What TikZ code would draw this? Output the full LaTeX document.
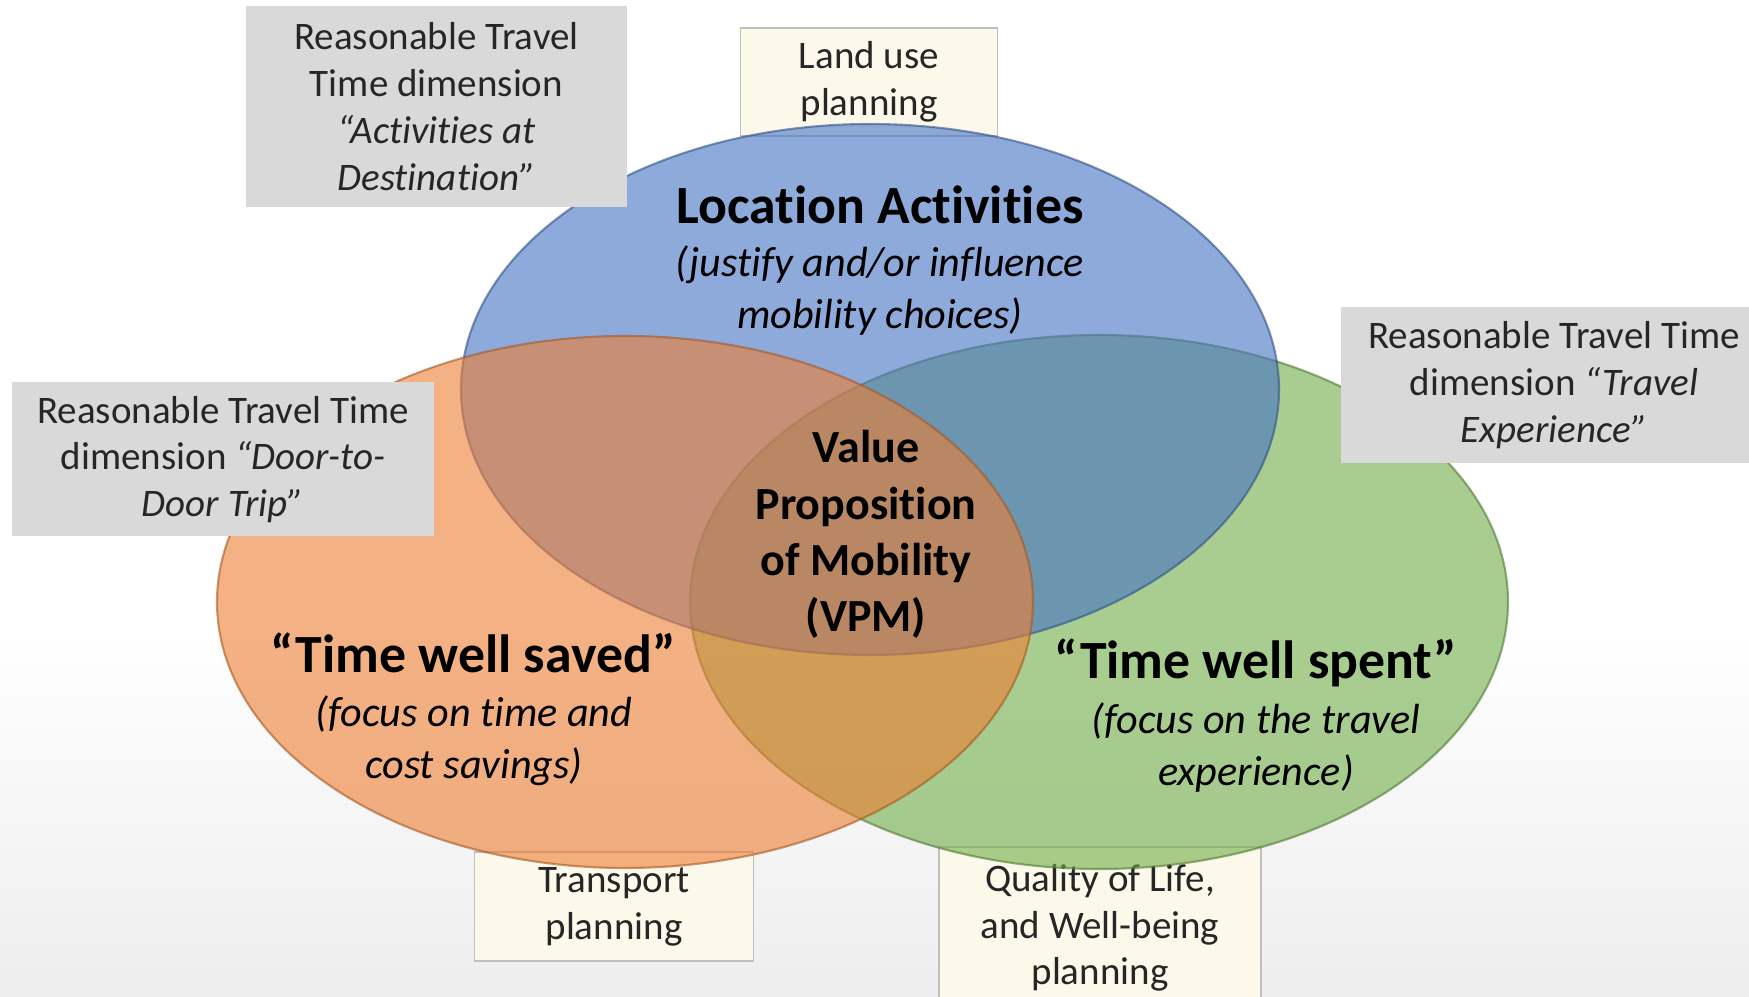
\documentclass[tikz,border=0pt]{standalone}
\usepackage{fontspec}
\setmainfont{Carlito}[Ligatures={NoCommon}]
\usepackage{tikz}

\definecolor{azulvpm}{HTML}{4472C4}
\definecolor{naranjavpm}{HTML}{ED7D31}
\definecolor{verdevpm}{HTML}{70AD47}
\definecolor{grisvpm}{HTML}{D9D9D9}
\definecolor{cremavpm}{RGB}{252,249,234}

\begin{document}
\begin{tikzpicture}[
    graybox/.style={fill=grisvpm, inner sep=0pt, align=center, text=black!85,
        font=\fontsize{11.1}{13.3}\selectfont},
    planbox/.style={fill=cremavpm, draw=black!25, line width=0.5pt, inner sep=0pt,
        align=center, text=black!85, font=\fontsize{11.1}{13.3}\selectfont},
    venn/.style={opacity=0.6, line width=0.6pt},
    vtitle/.style={font=\fontsize{15.3}{18.6}\selectfont\bfseries},
    vsub/.style={align=center, font=\fontsize{12}{14.8}\selectfont\itshape}
]
    % Marco y fondo
    \useasboundingbox (0,0) rectangle (17.49,-9.97);
    \fill[white] (0,0) rectangle (17.49,-9.97);
    \shade[top color=white, bottom color=black!7] (0,-6.3) rectangle (17.49,-9.97);

    % Cajas de planificacion (debajo de las elipses)
    \node[planbox, minimum width=2.57cm, minimum height=1.08cm] (landuse) at (8.69,-0.82) {Land use\\planning};
    \node[planbox, minimum width=2.79cm, minimum height=1.09cm] (transport) at (6.14,-9.065) {Transport\\planning};
    \node[planbox, minimum width=3.22cm, minimum height=1.62cm] (quality) at (11.00,-9.28) {Quality of Life,\\and Well-being\\planning};

    % Elipses
    \draw[venn, fill=verdevpm, draw=verdevpm!70!black] (10.99,-6.02) ellipse [x radius=4.09, y radius=2.67];
    \draw[venn, fill=azulvpm, draw=azulvpm!70!black] (8.70,-3.895) ellipse [x radius=4.09, y radius=2.655];
    \draw[venn, fill=naranjavpm, draw=naranjavpm!70!black] (6.25,-6.02) ellipse [x radius=4.08, y radius=2.66];

    % Cajas grises de dimensiones
    \node[graybox, minimum width=3.81cm, minimum height=2.01cm] (rttdest) at (4.365,-1.065) {Reasonable Travel\\Time dimension\\\textit{“Activities at}\\\textit{Destination”}};
    \node[graybox, minimum width=4.22cm, minimum height=1.54cm] (rttdoor) at (2.23,-4.595) {Reasonable Travel Time\\dimension \textit{“Door-to-}\\\textit{Door Trip”}};
    \node[graybox, minimum width=4.26cm, minimum height=1.56cm] (rtttravel) at (15.54,-3.85) {Reasonable Travel Time\\dimension \textit{“Travel}\\\textit{Experience”}};

    % Textos de las elipses
    \node[vtitle] (loctitle) at (8.80,-2.05) {Location Activities};
    \node[vsub] (locsub) at (8.80,-2.905) {(justify and/or influence\\mobility choices)};
    \node[vtitle] (savedtitle) at (4.73,-6.53) {“Time well saved”};
    \node[vsub] (savedsub) at (4.74,-7.405) {(focus on time and\\cost savings)};
    \node[vtitle] (spenttitle) at (12.56,-6.63) {“Time well spent”};
    \node[vsub] (spentsub) at (12.56,-7.48) {(focus on the travel\\experience)};
    \node[align=center, font=\fontsize{13.1}{16}\selectfont\bfseries] (vpm) at (8.66,-5.345) {Value\\Proposition\\of Mobility\\(VPM)};
\end{tikzpicture}
\end{document}
